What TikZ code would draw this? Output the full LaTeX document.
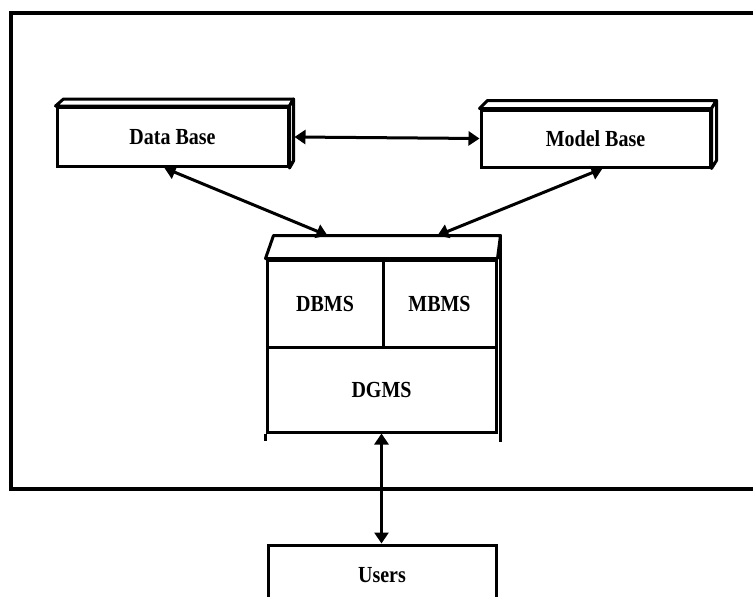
\documentclass[tikz,border=0pt]{standalone}
\usepackage{fontspec}
\setmainfont{Liberation Serif}
\usetikzlibrary{arrows.meta,calc}
\newcommand\tall[1]{\scalebox{1}[1.15]{#1}}
\tikzset{
  box/.style={draw, line width=3pt, fill=white, inner sep=0pt,
    font=\fontsize{20}{24}\selectfont\bfseries},
  face/.style={draw, line width=3pt, line join=round, fill=white},
  link/.style={line width=3pt,
    {Triangle[length=11pt,width=14pt]}-{Triangle[length=11pt,width=14pt]}},
  frame/.style={line width=4.5pt}
}
\begin{document}
\begin{tikzpicture}[x=1pt,y=-1pt]
\useasboundingbox (0,0) rectangle (753,597);
\clip (0,0) rectangle (753,597);

% system boundary
\draw[frame] (770,13) -- (11,13) -- (11,489) -- (770,489);

% Data Base block
\node[box, minimum width=231pt, minimum height=59pt] (db) at (172.5,137) {\tall{Data Base}};
\draw[face] (db.north west) -- ++(8,-7) -- ($(db.north east)+(4,-7)$) -- (db.north east) -- cycle;
\draw[face] (db.north east) -- ++(4,-7) -- ($(db.south east)+(4,-7)$) -- (db.south east) -- cycle;

% Model Base block
\node[box, minimum width=229pt, minimum height=57pt] (mb) at (595.5,138.5) {\tall{Model Base}};
\draw[face] (mb.north west) -- ++(8,-8) -- ($(mb.north east)+(5,-8)$) -- (mb.north east) -- cycle;
\draw[face] (mb.north east) -- ++(5,-8) -- ($(mb.south east)+(5,-8)$) -- (mb.south east) -- cycle;

% management system block
\node[box, minimum width=229pt, minimum height=172pt] (sys) at (381.5,346) {};
\draw[face] (sys.north west) -- ++(8,-23) -- ($(sys.north east)+(3,-23)$) -- (sys.north east) -- cycle;
\draw[face] ($(sys.north east)+(3,-23)$) -- ($(sys.south east)+(3,8)$);
\draw[face] (sys.south west) -- ++(0,7);
\coordinate (systop) at ($(sys.north)+(0,-23)$);
\node[box, minimum width=116pt, minimum height=87pt] (dbms) at (325,303.5) {\tall{DBMS}};
\node[box, minimum width=113pt, minimum height=87pt] (mbms) at (439.5,303.5) {\tall{MBMS}};
\node[box, minimum width=229pt, minimum height=85pt] (dgms) at (381.5,389.5) {\tall{DGMS}};

% users
\node[box, minimum width=228pt, minimum height=60pt] (users) at (382,575) {\tall{Users}};

% connectors
\draw[link] ([xshift=5pt]db.east) -- (mb.west);
\draw[link] ([xshift=-8pt]db.south) -- ([xshift=-54pt]systop);
\draw[link] ([xshift=7pt]mb.south) -- ([xshift=56pt]systop);
\draw[link] (sys.south) -- (sys.south |- users.north);
\end{tikzpicture}
\end{document}
